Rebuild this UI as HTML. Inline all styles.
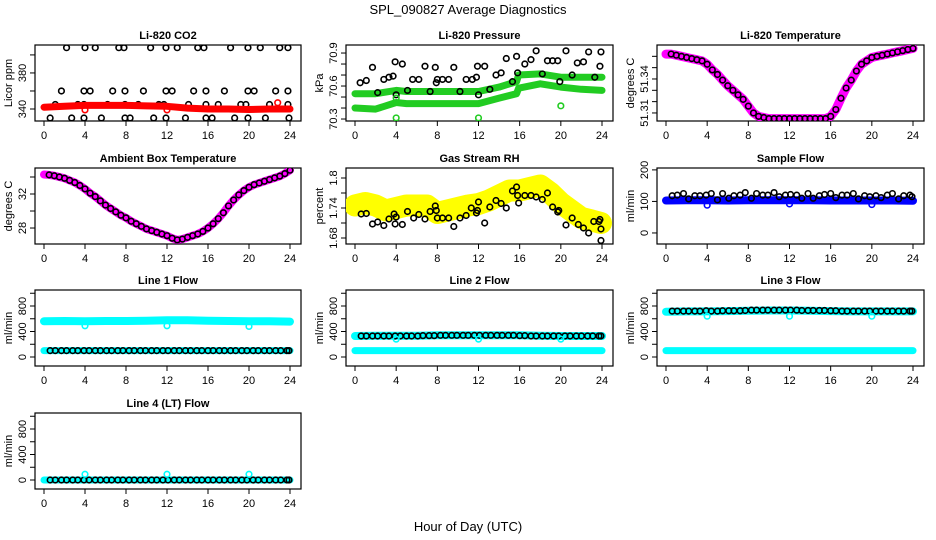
<!DOCTYPE html>
<html><head><meta charset="utf-8"><style>
html,body{margin:0;padding:0;background:#fff;}
svg{display:block;font-family:"Liberation Sans",Arial,sans-serif;}
</style></head><body>
<svg id="c" width="936" height="540" viewBox="0 0 936 540">
<text x="468" y="14" text-anchor="middle" font-size="13">SPL_090827  Average Diagnostics</text>
<text x="468" y="531" text-anchor="middle" font-size="13">Hour of Day (UTC)</text>
</svg>
<script>
// ---------- data ----------
const xTicks = [0,4,8,12,16,20,24];
const bandHours = [0,2,4,6,8,10,12,14,16,18,20,22,24];
const halfHours = [0,0.5,1,1.5,2,2.5,3,3.5,4,4.5,5,5.5,6,6.5,7,7.5,8,8.5,9,9.5,10,10.5,11,11.5,12,12.5,13,13.5,14,14.5,15,15.5,16,16.5,17,17.5,18,18.5,19,19.5,20,20.5,21,21.5,22,22.5,23,23.5,24];
const flowHours = [0.6,1.1,1.7,2.2,2.8,3.3,3.9,4.4,5.0,5.5,6.1,6.6,7.2,7.7,8.3,8.8,9.4,9.9,10.5,11.0,11.6,12.1,12.7,13.2,13.8,14.3,14.9,15.4,16.0,16.5,17.1,17.6,18.2,18.7,19.3,19.8,20.4,20.9,21.5,22.0,22.6,23.1,23.7,23.9];
const outlierHours = [4,12,20];

// CO2
const co2BlackHours = [2.2,4.0,5.0,7.3,7.8,10.4,11.9,13.0,15.0,15.6,18.2,19.9,21.1,23.0,23.8, 1.7,3.9,4.5,6.7,7.9,9.7,11.9,12.5,14.6,15.8,17.6,19.9,20.5,22.6,23.8, 1.1,3.3,3.9,6.2,7.9,9.2,11.2,11.7,14.1,15.8,17.0,19.2,19.7,22.0,23.8, 0.6,2.7,3.9,5.6,7.9,8.4,10.7,11.9,13.8,15.8,16.4,18.6,19.9,21.6,23.9];
const co2BlackVals = [408,408,408,408,408,408,408,408,408,408,408,408,408,408,408, 360,360,360,360,360,360,360,360,360,360,360,360,360,360,360, 345,345,345,345,345,345,345,345,345,345,345,345,345,345,345, 330,330,330,330,330,330,330,330,330,330,330,330,330,330,330];
const co2Red = [342,343,344,344,344,343.5,343,341,340,340,339.5,340,340];
const co2RedOutHours = [4,12,22.8];
const co2RedOutVals = [339,339,347];

// Pressure
const presHours = [0,2,4,5,8,12,14,15.7,15.9,18,20,22,24];
const presUpper = [70.53,70.53,70.56,70.55,70.55,70.55,70.59,70.64,70.70,70.71,70.68,70.68,70.68];
const presLower = [70.40,70.39,70.45,70.44,70.44,70.44,70.49,70.53,70.58,70.62,70.59,70.57,70.56];
const presBlackHours = [0.5,1.1,1.7,2.2,2.8,3.3,3.7,3.9,4.0,4.6,5.1,5.6,6.2,6.8,7.3,7.8,7.9,8.0,8.5,9.1,9.6,10.2,10.8,11.4,11.8,11.9,12.0,12.6,13.1,13.7,14.2,14.7,15.3,15.7,15.8,16.5,17.1,17.6,18.2,18.7,19.2,19.7,19.9,20.5,21.1,21.6,22.2,22.7,23.3,23.8,23.9];
const presBlackVals = [70.63,70.65,70.77,70.54,70.66,70.68,70.69,70.82,70.52,70.80,70.56,70.66,70.66,70.78,70.55,70.77,70.63,70.66,70.66,70.66,70.77,70.55,70.66,70.66,70.68,70.78,70.52,70.78,70.57,70.70,70.72,70.85,70.64,70.87,70.72,70.80,70.84,70.92,70.71,70.83,70.83,70.83,70.64,70.92,70.70,70.81,70.82,70.91,70.68,70.78,70.91];
const presGreenOutHours = [4,4,12,20];
const presGreenOutVals = [70.31,70.49,70.31,70.42];

// Li-820 temperature
const liTemp = [51.362,51.362,51.361,51.360,51.359,51.358,51.357,51.356,51.353,51.348,51.344,51.339,51.334,51.330,51.326,51.322,51.316,51.310,51.307,51.306,51.305,51.305,51.305,51.305,51.305,51.305,51.305,51.305,51.305,51.305,51.305,51.305,51.307,51.313,51.323,51.332,51.339,51.347,51.353,51.356,51.359,51.360,51.361,51.362,51.363,51.364,51.365,51.366,51.367];

// Ambient box temperature
const ambTemp = [34.3,34.25,34.15,34.0,33.85,33.6,33.35,33.0,32.6,32.1,31.7,31.2,30.7,30.3,29.9,29.5,29.2,28.8,28.5,28.2,27.9,27.7,27.5,27.3,27.1,26.8,26.6,26.7,26.9,27.1,27.3,27.6,28.0,28.5,29.1,29.8,30.6,31.3,31.9,32.4,32.8,33.1,33.3,33.5,33.7,33.9,34.1,34.4,34.8];

// Gas stream RH
const rhYellowHours = [0,1,2,3,4,5,6,7,8,9,10,11,12,13,14,15,16,17,18,19,20,21,22,23,23.9];
const rhYellow = [1.745,1.75,1.745,1.735,1.74,1.745,1.745,1.745,1.73,1.735,1.74,1.745,1.748,1.755,1.765,1.775,1.775,1.78,1.785,1.77,1.75,1.735,1.72,1.715,1.71];
const rhBlackHours = [0.6,1.1,1.7,2.2,2.8,3.3,3.8,3.9,4.0,4.6,5.1,5.7,6.2,6.8,7.3,7.8,7.9,8.0,8.5,9.1,9.6,10.2,10.8,11.3,11.8,11.9,12.0,12.6,13.1,13.7,14.2,14.7,15.3,15.7,15.8,15.9,16.5,17.1,17.6,18.2,18.7,19.2,19.7,19.8,20.5,21.1,21.7,22.2,22.7,23.2,23.7,23.8,23.9,23.9];
const rhBlackVals = [1.728,1.729,1.708,1.712,1.705,1.718,1.728,1.708,1.722,1.707,1.733,1.72,1.727,1.718,1.733,1.744,1.735,1.72,1.72,1.72,1.703,1.72,1.725,1.74,1.73,1.735,1.752,1.71,1.742,1.755,1.749,1.74,1.774,1.782,1.765,1.75,1.765,1.765,1.762,1.757,1.77,1.742,1.732,1.735,1.706,1.72,1.707,1.7,1.69,1.713,1.713,1.717,1.698,1.675];

// Sample flow
const sampleBlue = [103,104,104,103,104,104,104,104,103,103,103,103,102];
const sampleBlack = [118,120,125,108,118,118,120,125,105,125,110,118,120,128,110,125,120,120,128,115,120,122,120,110,125,110,118,122,125,112,120,120,125,108,118,115,118,112,120,125,108,118,120,115];
const sampleOut = [88,92,90];

// Line flows
const line1Cyan = [560,565,560,565,565,570,575,575,570,565,560,560,555];
const line1Low = [100,100,100,100,100,100,100,100,100,100,100,100,100];
const line1Black = [100,100,100,100,100,100,100,100,100,100,100,100,100,100,100,100,100,100,100,100,100,100,100,100,100,100,100,100,100,100,100,100,100,100,100,100,100,100,100,100,100,100,100,100];
const line1Out = [490,490,480];
const line2Cyan = [330,335,335,335,340,340,340,340,340,335,330,330,330];
const line2Low = [100,100,100,100,100,100,100,100,100,100,100,100,100];
const line2Black = [330,330,330,330,330,330,330,330,330,330,330,335,335,335,340,340,340,340,340,340,340,340,340,340,340,340,340,340,335,335,330,330,330,330,330,330,330,330,330,330,330,330,330,330];
const line2Out = [280,280,280];
const line3Cyan = [710,715,715,720,725,730,730,725,720,715,715,715,715];
const line3Low = [100,100,100,100,100,100,100,100,100,100,100,100,100];
const line3Black = [720,720,720,720,720,720,725,720,720,725,725,725,725,730,735,735,735,735,735,735,735,735,735,730,730,730,730,730,725,725,720,720,720,720,720,720,720,720,720,720,720,720,720,720];
const line3Out = [640,640,640];
const line4Cyan = [0,0,0,0,0,0,0,0,0,0,0,0,0];
const line4Black = [0,0,0,0,0,0,0,0,0,0,0,0,0,0,0,0,0,0,0,0,0,0,0,0,0,0,0,0,0,0,0,0,0,0,0,0,0,0,0,0,0,0,0,0];
const line4Out = [90,90,90];

// ---------- drawing ----------
const NS = 'http://www.w3.org/2000/svg';
const svg = document.getElementById('c');
function mk(tag, attrs, parent){
  const e = document.createElementNS(NS, tag);
  for (const k in attrs) e.setAttribute(k, attrs[k]);
  (parent||svg).appendChild(e);
  return e;
}
const colLeft = [35, 346, 657];
const colWidth = [266, 267, 267];
const rowTop = [45, 168, 290, 413];
const boxH = 76;

function makePanel(name, title, col, row, yMin, yMax, yTicks, yLabels, yTitle){
  const L = colLeft[col], W = colWidth[col], T = rowTop[row], B = T + boxH;
  const g = mk('g', {});
  
  
  const xs = h => L + 9 + h * (W - 20) / 24;
  const ys = v => B - (v - yMin) / (yMax - yMin) * boxH;
  const rect = mk('rect', {x:L, y:T, width:W, height:boxH, fill:'none', stroke:'#000', 'stroke-width':1.2}, g);
  
  
  const t = mk('text', {x:L + W/2, y:T - 6, 'text-anchor':'middle', 'font-size':11, 'font-weight':'bold'}, g);
  t.textContent = title;
  
  
  // x axis
  const xa = mk('g', {}, g);
  
  
  xTicks.forEach(h => {
    mk('line', {x1:xs(h), x2:xs(h), y1:B, y2:B + 5, stroke:'#000'}, xa);
    const tl = mk('text', {x:xs(h), y:B + 18, 'text-anchor':'middle', 'font-size':11}, xa);
    tl.textContent = h;
    
    
  });
  // y axis
  const ya = mk('g', {}, g);
  
  
  yTicks.forEach(v => mk('line', {x1:L - 5, x2:L, y1:ys(v), y2:ys(v), stroke:'#000'}, ya));
  yLabels.forEach(v => {
    const tx = L - 9, ty = ys(v);
    const tl = mk('text', {x:tx, y:ty, 'text-anchor':'middle', 'font-size':11, transform:`rotate(-90 ${tx} ${ty})`}, ya);
    tl.textContent = v;
    
    
  });
  const yx = L - 23, yy = T + boxH/2;
  const yt = mk('text', {x:yx, y:yy, 'text-anchor':'middle', 'font-size':11, transform:`rotate(-90 ${yx} ${yy})`}, g);
  yt.textContent = yTitle;
  
  
  const clipId = 'clip-' + name;
  const cp = mk('clipPath', {id:clipId}, g);
  mk('rect', {x:L, y:T, width:W, height:boxH}, cp);
  const marks = mk('g', {'clip-path':`url(#${clipId})`}, g);
  
  
  return {xs, ys, marks};
}
function band(p, hours, vals, color, width, nm){
  const d = hours.map((h,i) => (i ? 'L' : 'M') + p.xs(h).toFixed(1) + ' ' + p.ys(vals[i]).toFixed(1)).join(' ');
  const e = mk('path', {d, fill:'none', stroke:color, 'stroke-width':width, 'stroke-linecap':'round', 'stroke-linejoin':'round'}, p.marks);
  
  
}
function pts(p, hours, vals, color, nm, r){
  hours.forEach((h,i) => {
    const c = mk('circle', {cx:p.xs(h), cy:p.ys(vals[i]), r:r||2.8, fill:'none', stroke:color, 'stroke-width':1.6}, p.marks);
    
    
  });
}

// Panel 1: CO2
let p = makePanel('co2', 'Li-820 CO2', 0, 0, 326.7, 411, [340,360,380,400], [340,380], 'Licor ppm');
pts(p, co2BlackHours, co2BlackVals, '#000', 'co2-point');
band(p, bandHours, co2Red, '#f00', 7, 'co2-red-band');
pts(p, co2RedOutHours, co2RedOutVals, '#f00', 'co2-red-outlier');

// Panel 2: Pressure
p = makePanel('pressure', 'Li-820 Pressure', 1, 0, 70.282, 70.973, [70.3,70.4,70.5,70.6,70.7,70.8,70.9], [70.3,70.6,70.9], 'kPa');
band(p, presHours, presUpper, '#2c2', 7, 'pressure-upper-band');
band(p, presHours, presLower, '#2c2', 7, 'pressure-lower-band');
pts(p, presBlackHours, presBlackVals, '#000', 'pressure-point');
pts(p, presGreenOutHours, presGreenOutVals, '#2c2', 'pressure-green-outlier');

// Panel 3: Li-820 temperature
p = makePanel('li-temp', 'Li-820 Temperature', 2, 0, 51.3029, 51.370, [51.31,51.32,51.33,51.34,51.35,51.36], [51.31,51.34], 'degrees C');
band(p, halfHours, liTemp, '#f0f', 9, 'li-temp-band');
pts(p, halfHours.slice(1), liTemp.slice(1), '#000', 'li-temp-point');

// Panel 4: Ambient
p = makePanel('ambient', 'Ambient Box Temperature', 0, 1, 26.12, 35.06, [28,30,32,34], [28,32], 'degrees C');
band(p, halfHours, ambTemp, '#f0f', 8, 'ambient-band');
pts(p, halfHours.slice(1), ambTemp.slice(1), '#000', 'ambient-point');

// Panel 5: RH
p = makePanel('rh', 'Gas Stream RH', 1, 1, 1.668, 1.82, [1.68,1.71,1.74,1.77,1.80], [1.68,1.74,1.80], 'percent');
band(p, rhYellowHours, rhYellow, '#ff0', 22, 'rh-yellow-band');
pts(p, rhBlackHours, rhBlackVals, '#000', 'rh-point');

// Panel 6: Sample flow
p = makePanel('sample-flow', 'Sample Flow', 2, 1, -35, 206, [0,100,200], [0,100,200], 'ml/min');
band(p, bandHours, sampleBlue, '#00f', 8, 'sample-flow-blue-band');
pts(p, flowHours, sampleBlack, '#000', 'sample-flow-point');
pts(p, outlierHours, sampleOut, '#00f', 'sample-flow-outlier');

const flowTicks = [0,200,400,600,800,1000], flowLabels = [0,400,800];
// Line 1
p = makePanel('line1', 'Line 1 Flow', 0, 2, -141, 1051, flowTicks, flowLabels, 'ml/min');
band(p, bandHours, line1Cyan, '#0ff', 8, 'line1-cyan-band');
band(p, bandHours, line1Low, '#0ff', 7, 'line1-cyan-low-band');
pts(p, flowHours, line1Black, '#000', 'line1-point');
pts(p, outlierHours, line1Out, '#0ff', 'line1-outlier');
// Line 2
p = makePanel('line2', 'Line 2 Flow', 1, 2, -141, 1051, flowTicks, flowLabels, 'ml/min');
band(p, bandHours, line2Cyan, '#0ff', 8, 'line2-cyan-band');
band(p, bandHours, line2Low, '#0ff', 7, 'line2-cyan-low-band');
pts(p, flowHours, line2Black, '#000', 'line2-point');
pts(p, outlierHours, line2Out, '#0ff', 'line2-outlier');
// Line 3
p = makePanel('line3', 'Line 3 Flow', 2, 2, -141, 1051, flowTicks, flowLabels, 'ml/min');
band(p, bandHours, line3Cyan, '#0ff', 8, 'line3-cyan-band');
band(p, bandHours, line3Low, '#0ff', 7, 'line3-cyan-low-band');
pts(p, flowHours, line3Black, '#000', 'line3-point');
pts(p, outlierHours, line3Out, '#0ff', 'line3-outlier');
// Line 4
p = makePanel('line4', 'Line 4 (LT) Flow', 0, 3, -141, 1051, flowTicks, flowLabels, 'ml/min');
band(p, bandHours, line4Cyan, '#0ff', 7, 'line4-cyan-band');
pts(p, flowHours, line4Black, '#000', 'line4-point');
pts(p, outlierHours, line4Out, '#0ff', 'line4-outlier');
</script>
</body></html>
